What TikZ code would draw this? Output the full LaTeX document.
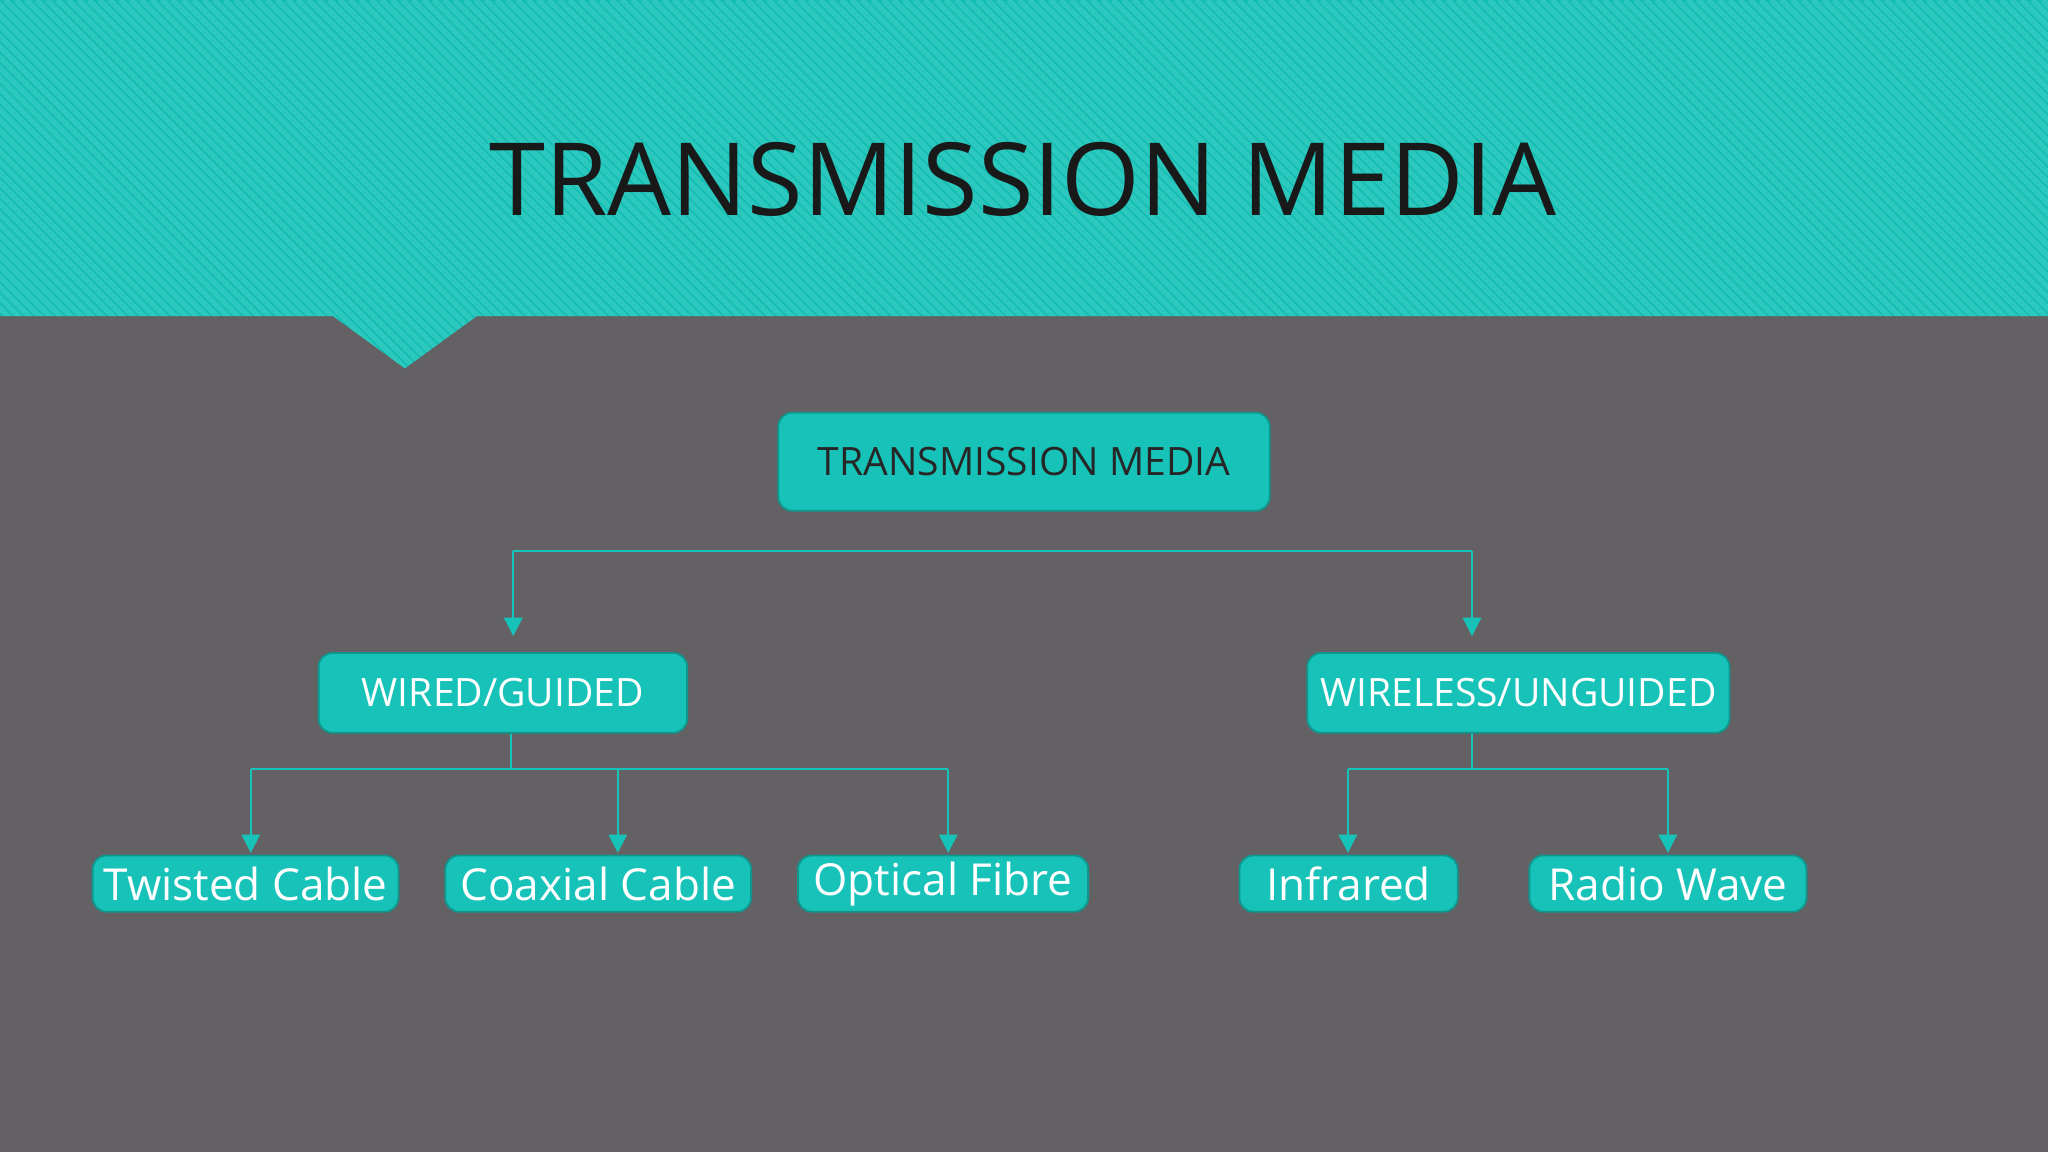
\documentclass[tikz,border=0pt]{standalone}
\usepackage{fontspec}
\setmainfont{Open Sans}
\usetikzlibrary{arrows.meta}
\definecolor{teal1}{HTML}{13BDB3}
\definecolor{teal2}{HTML}{2CC8BE}
\definecolor{bggray}{HTML}{636163}
\definecolor{boxfill}{HTML}{17C3B8}
\tikzset{
 box/.style={draw=teal1!80!black,line width=0.4pt,fill=boxfill,rounded corners=3pt,inner sep=0pt,text=white},
 link/.style={draw=boxfill,line width=0.5pt},
 arr/.style={link,-{Triangle[length=4pt,width=4pt]}}
}
\begin{document}
\begin{tikzpicture}[x=0.01cm,y=-0.01cm]
\useasboundingbox (0,0) rectangle (1568,882);
\fill[bggray] (0,0) rectangle (1568,882);
\fill[teal1] (0,0) -- (1568,0) -- (1568,242) -- (365,242) -- (310,282) -- (255,242) -- (0,242) -- cycle;
\begin{scope}
\clip (0,0) -- (1568,0) -- (1568,242) -- (365,242) -- (310,282) -- (255,242) -- (0,242) -- cycle;
\foreach \i in {-300,-292,...,1600} {\draw[teal2,line width=1.2pt] (\i,0) -- (\i+300,300);}
\end{scope}
\node[text=black!90,font=\fontsize{22}{26}\selectfont] (title) at (783,137) {TRANSMISSION MEDIA};
\node[box,text=black!85,minimum width=376\pgflinewidth,font=\fontsize{8.5}{10}\selectfont] (root) at (784,353.5) [minimum width=3.76cm,minimum height=0.75cm] {TRANSMISSION MEDIA};
\node[box,minimum width=2.82cm,minimum height=0.61cm,font=\fontsize{8.5}{10}\selectfont] (wired) at (385,530.5) {WIRED/GUIDED};
\node[box,minimum width=3.23cm,minimum height=0.61cm,font=\fontsize{8.5}{10}\selectfont] (wless) at (1162.5,530.5) {WIRELESS/UNGUIDED};
\tikzset{leaf/.style={box,minimum height=0.43cm,font=\fontsize{9.6}{11}\selectfont}}
\node[leaf,minimum width=2.34cm] (tw) at (188,676.5) {Twisted Cable};
\node[leaf,minimum width=2.34cm] (co) at (458,676.5) {Coaxial Cable};
\node[leaf,minimum width=2.22cm] (op) at (722,676.5) {Optical Fibre};
\node[leaf,minimum width=1.67cm] (ir) at (1032.5,676.5) {Infrared};
\node[leaf,minimum width=2.12cm] (rw) at (1277,676.5) {Radio Wave};
\coordinate (h1) at (393,422);
\coordinate (h2) at (1127,422);
\draw[link] (h1) -- (h2);
\draw[arr] (h1) -- (393,487);
\draw[arr] (h2) -- (1127,487);
\coordinate (w1) at (391,589);
\draw[link] (wired.south -| w1) -- (w1);
\draw[link] (192,589) -- (726,589);
\draw[arr] (192,589) -- (192,653);
\draw[arr] (473,589) -- (473,653);
\draw[arr] (726,589) -- (726,653);
\coordinate (w2) at (1127,589);
\draw[link] (wless.south -| w2) -- (w2);
\draw[link] (1032,589) -- (1277,589);
\draw[arr] (1032,589) -- (1032,653);
\draw[arr] (1277,589) -- (1277,653);
\end{tikzpicture}
\end{document}
